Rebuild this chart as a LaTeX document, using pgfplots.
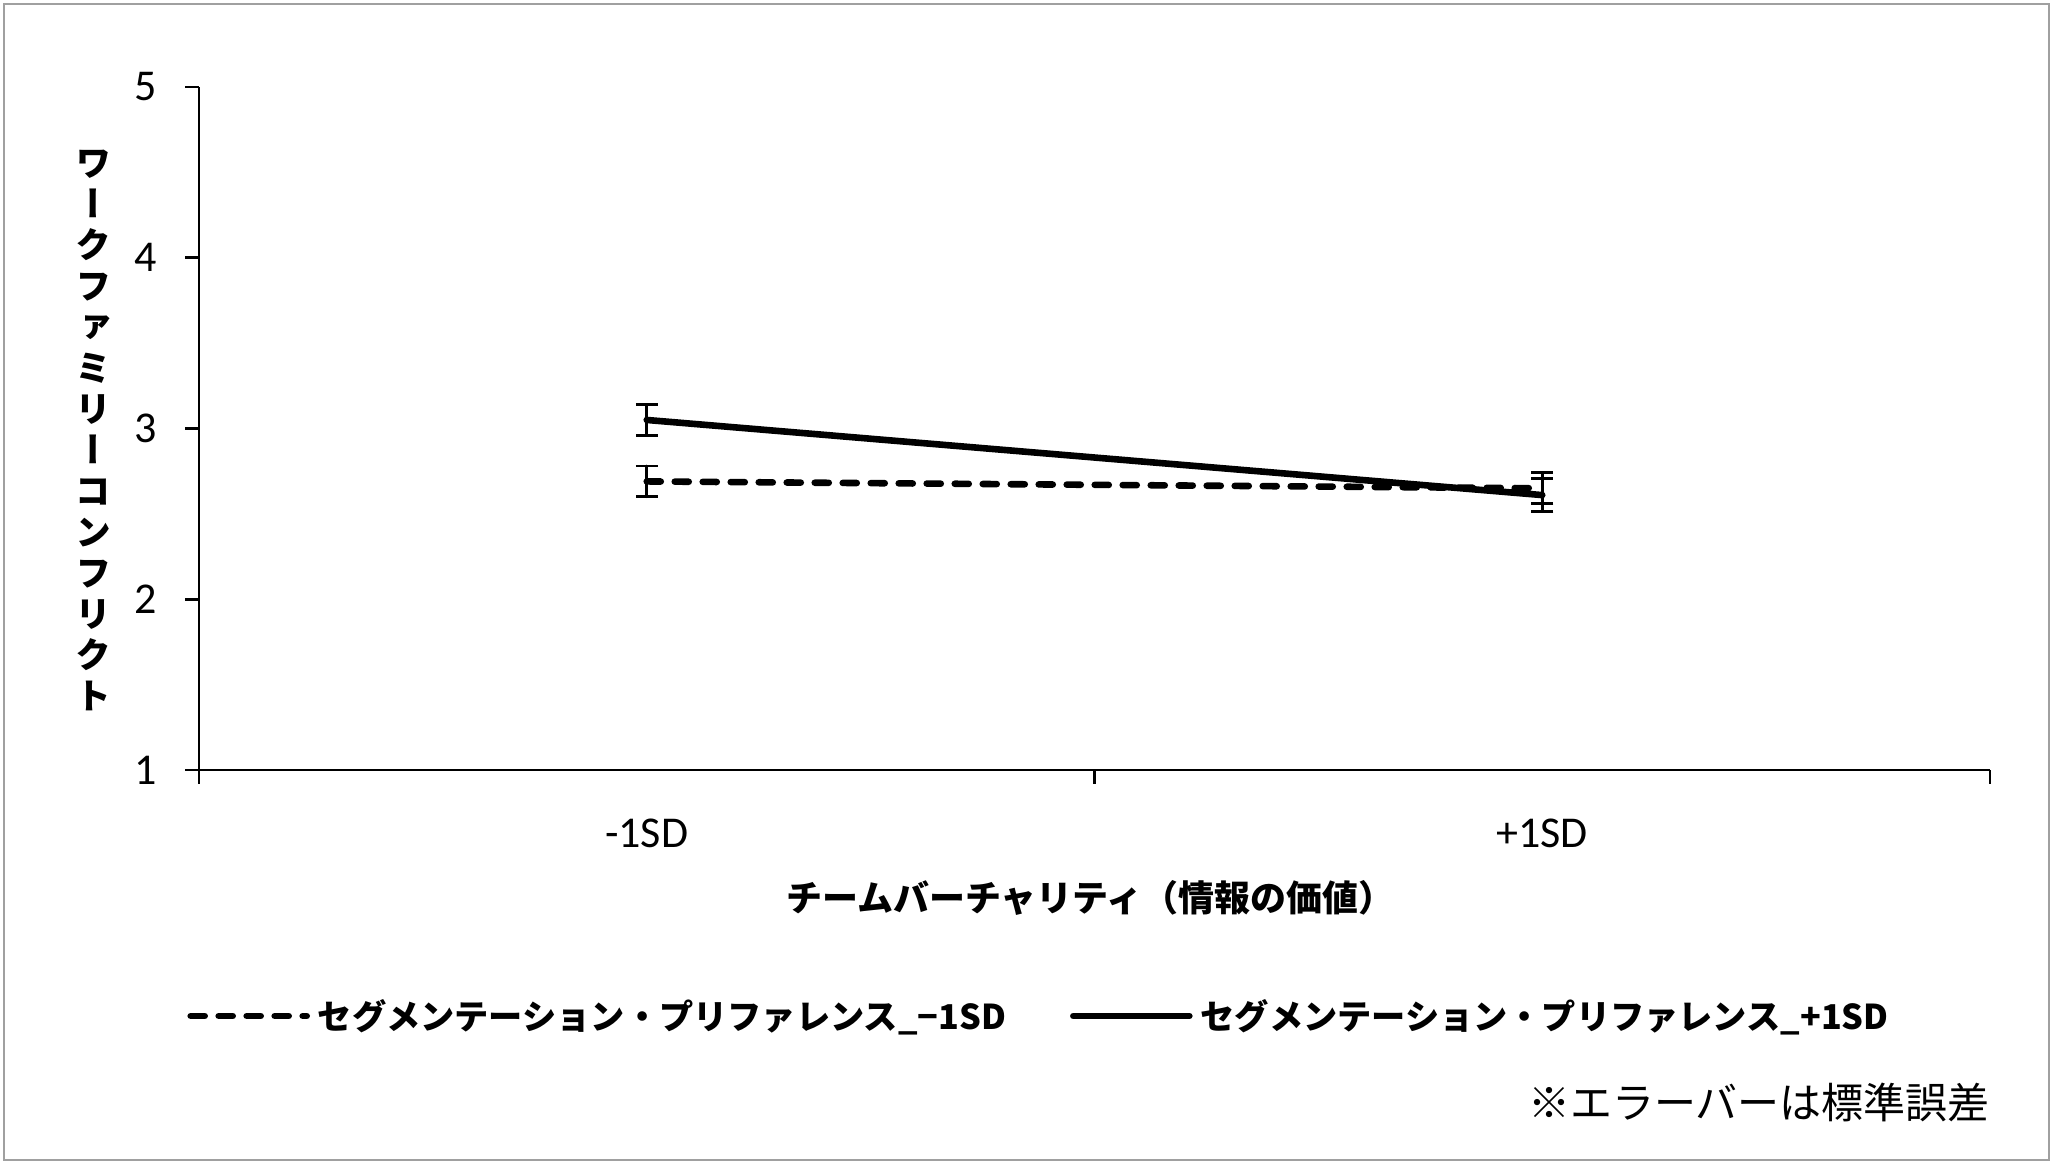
\documentclass[border=0pt]{standalone}
\usepackage{fontspec}
\usepackage{pgfplots}
\pgfplotsset{compat=1.18}
\setmainfont{Carlito}
\newfontfamily\jp{Noto Sans CJK JP}
\newfontfamily\jpv[RawFeature=+vert]{Noto Sans CJK JP}
\definecolor{framegray}{HTML}{A0A0A0}

\begin{document}
\begin{tikzpicture}
\begin{axis}[
  scale only axis,
  width=895.5pt, height=341.5pt,
  xmin=0, xmax=2, ymin=1, ymax=5,
  axis x line=bottom, axis y line=left,
  axis line style={-, line width=1.3pt},
  xtick={0,1,2}, x tick label as interval,
  xticklabels={-1SD,+1SD},
  ytick={1,2,3,4,5},
  tick align=outside,
  major tick length=6.8pt,
  tick style={line width=1.3pt, black},
  tick label style={font=\fontsize{22}{26}\selectfont},
  yticklabel style={xshift=-11pt},
  xticklabel style={yshift=-14pt},
  /pgf/number format/assume math mode=true,
  clip=false,
  xlabel={チームバーチャリティ（情報の価値）},
  xlabel style={font=\jp\bfseries\fontsize{18}{20}\selectfont,
    at={(rel axis cs:0.5,0)}, anchor=center, yshift=-64pt, xshift=-2pt},
  legend columns=2,
  legend style={draw=none, at={(rel axis cs:0,0)}, anchor=west,
    xshift=-6pt, yshift=-123pt, inner sep=0pt,
    font=\jp\bfseries\fontsize{17.1}{20}\selectfont,
    /tikz/every even column/.append style={column sep=30pt},
    /tikz/every odd column/.append style={column sep=2pt}},
  legend image code/.code={\draw[#1] (0pt,0pt) -- (58pt,0pt);},
]
\addplot[black, line width=3.3pt, line cap=round, dash pattern=on 7pt off 7pt,
  error bars/.cd, y dir=both, y explicit,
  error bar style={line width=1.4pt, solid},
  error mark options={rotate=90, line width=1.4pt, mark size=5.5pt, black, solid}]
  coordinates {(0.5,2.69) +- (0,0.09) (1.5,2.65) +- (0,0.09)};
\addlegendentry{セグメンテーション・プリファレンス\_−1SD}
\addplot[black, line width=3.3pt, line cap=round,
  error bars/.cd, y dir=both, y explicit,
  error bar style={line width=1.4pt, solid},
  error mark options={rotate=90, line width=1.4pt, mark size=5.5pt, black, solid}]
  coordinates {(0.5,3.05) +- (0,0.09) (1.5,2.61) +- (0,0.095)};
\addlegendentry{セグメンテーション・プリファレンス\_+1SD}

\node[align=center, font=\jpv\bfseries\fontsize{18}{20.5}\selectfont]
  at (rel axis cs:0,0.5) [xshift=-52.5pt, yshift=-1pt]
  {ワ\\ー\\ク\\フ\\ァ\\ミ\\リ\\ー\\コ\\ン\\フ\\リ\\ク\\ト};
\node[anchor=east, font=\jp\fontsize{21}{24}\selectfont, inner sep=0pt]
  at (rel axis cs:1,0) [yshift=-166pt] {※エラーバーは標準誤差};
\coordinate (SW) at (rel axis cs:0,0);
\coordinate (NE) at (rel axis cs:1,1);
\end{axis}
\useasboundingbox ([xshift=-99.5pt, yshift=-197pt]SW) rectangle ([xshift=31.5pt, yshift=43.5pt]NE);
\draw[framegray, line width=1pt]
  ([xshift=-97.5pt, yshift=-195pt]SW) rectangle ([xshift=29.5pt, yshift=41.5pt]NE);
\end{tikzpicture}
\end{document}
